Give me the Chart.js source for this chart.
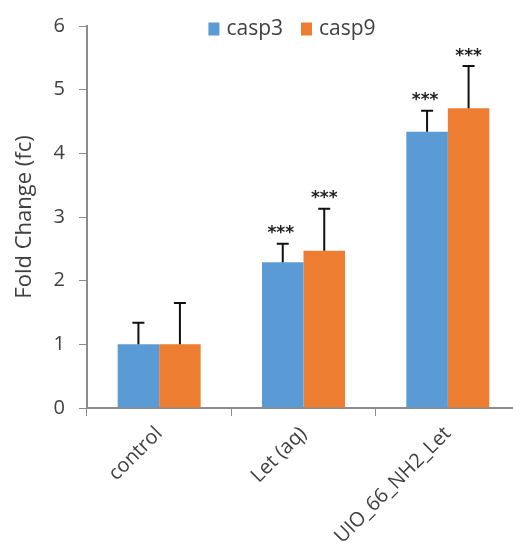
<!DOCTYPE html>
<html>
<head>
<meta charset="utf-8">
<script src="https://cdn.jsdelivr.net/npm/chart.js@4"></script>
<style>
  html, body { margin: 0; padding: 0; background: #fff; overflow: hidden; }
  #wrap { width: 522px; height: 544px; }
</style>
</head>
<body>
<div id="wrap"><canvas id="fc-chart" width="522" height="544"></canvas></div>
<script>
// ---- data ----
const groups = ['control', 'Let (aq)', 'UIO_66_NH2_Let'];
const casp3 = [1.0, 2.29, 4.34];
const casp9 = [1.0, 2.47, 4.71];
const casp3Err = [0.34, 0.29, 0.33];
const casp9Err = [0.65, 0.66, 0.66];
const casp3Stars = ['', '***', '***'];
const casp9Stars = ['', '***', '***'];
const yTicks = [0, 1, 2, 3, 4, 5, 6];

const BLUE = '#5B9BD5';
const ORANGE = '#ED7D31';
const AXIS = '#8c8c8c';
const TEXT = '#404040';
const FONT = '"Open Sans"';

// error bars + significance stars on top of each bar
const errorBarPlugin = {
  id: 'errorBars',
  afterDatasetsDraw(chart) {
    const { ctx, scales: { y } } = chart;
    chart.data.datasets.forEach((ds, di) => {
      const meta = chart.getDatasetMeta(di);
      meta.data.forEach((bar, i) => {
        const top = y.getPixelForValue(ds.data[i] + ds.errors[i]);
        const base = y.getPixelForValue(ds.data[i]);
        ctx.save();
        ctx.strokeStyle = '#111';
        ctx.lineWidth = 2;
        ctx.beginPath();
        ctx.moveTo(bar.x, base);
        ctx.lineTo(bar.x, top);
        ctx.moveTo(bar.x - 6, top);
        ctx.lineTo(bar.x + 6, top);
        ctx.stroke();
        if (ds.stars[i]) {
          ctx.fillStyle = '#222';
          ctx.font = 'bold 17px "DejaVu Sans"';
          ctx.textAlign = 'center';
          ctx.textBaseline = 'middle';
          ctx.fillText(ds.stars[i], bar.x - (di === 0 ? 2 : 0), top - 10);
        }
        ctx.restore();
      });
    });
  }
};

// legend drawn inside the plot, top centre (Excel style)
const topLegendPlugin = {
  id: 'topLegend',
  afterDraw(chart) {
    const { ctx } = chart;
    const items = chart.data.datasets.map(ds => ({ text: ds.label, color: ds.backgroundColor }));
    ctx.save();
    ctx.font = '21px ' + FONT;
    ctx.textBaseline = 'middle';
    ctx.textAlign = 'left';
    const box = 11, gap = 7, spacing = 18;
    const total = items.reduce((s, it) => s + box + gap + ctx.measureText(it.text).width, 0) + spacing * (items.length - 1);
    let x = 292 - total / 2;
    const yMid = 29;
    items.forEach(it => {
      ctx.fillStyle = it.color;
      ctx.fillRect(x, yMid - 6.5, box, 13);
      x += box + gap;
      ctx.fillStyle = TEXT;
      ctx.fillText(it.text, x, yMid);
      x += ctx.measureText(it.text).width + spacing;
    });
    ctx.restore();
  }
};

const ctx = document.getElementById('fc-chart').getContext('2d');
new Chart(ctx, {
  type: 'bar',
  data: {
    labels: groups,
    datasets: [
      { label: 'casp3', data: casp3, errors: casp3Err, stars: casp3Stars, backgroundColor: BLUE },
      { label: 'casp9', data: casp9, errors: casp9Err, stars: casp9Stars, backgroundColor: ORANGE }
    ]
  },
  options: {
    responsive: false,
    animation: false,
    layout: { padding: { top: 22, right: 2, bottom: 0, left: 0 } },
    datasets: { bar: { barPercentage: 1.0, categoryPercentage: 0.575 } },
    plugins: {
      tooltip: { enabled: false },
      legend: { display: false }
    },
    scales: {
      x: {
        grid: { drawOnChartArea: false, color: AXIS, tickLength: 8, offset: true },
        border: { color: AXIS, width: 2 },
        ticks: {
          color: TEXT,
          font: { family: FONT, size: 20 },
          minRotation: 45,
          maxRotation: 45,
          padding: 6
        },
        afterFit: (scale) => { scale.height = 136; }
      },
      y: {
        min: 0,
        max: 6,
        afterBuildTicks: (scale) => { scale.ticks = yTicks.map(v => ({ value: v })); },
        grid: { drawOnChartArea: false, color: AXIS, tickLength: 8 },
        border: { color: AXIS, width: 2 },
        ticks: {
          color: TEXT,
          font: { family: FONT, size: 20 },
          padding: 14
        },
        title: {
          display: true,
          text: 'Fold Change (fc)',
          color: TEXT,
          font: { family: FONT, size: 22 },
          padding: { top: 12, bottom: 0 }
        },
        afterFit: (scale) => { scale.width = 87; }
      }
    }
  },
  plugins: [errorBarPlugin, topLegendPlugin]
});
</script>
</body>
</html>
